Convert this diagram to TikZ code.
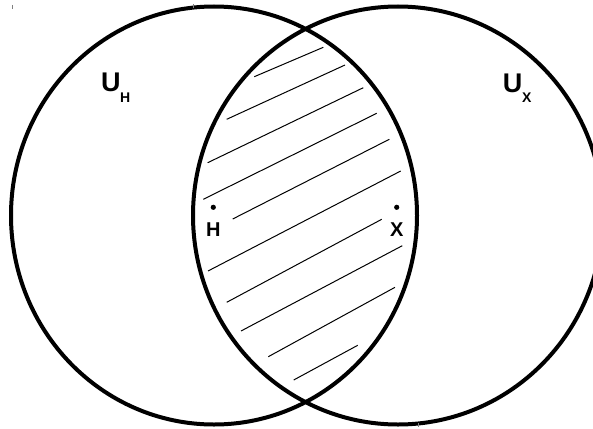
\documentclass[tikz,border=0pt]{standalone}
\usepackage{fontspec}
\setmainfont{Liberation Sans}
\begin{document}
\begin{tikzpicture}[x=1pt,y=-1pt,
  setline/.style={line width=4pt,black},
  hatch/.style={line width=1pt,black},
  big/.style={inner sep=0pt,font=\fontsize{27}{27}\selectfont\bfseries},
  sub/.style={inner sep=0pt,font=\fontsize{14}{14}\selectfont\bfseries},
  ptlabel/.style={inner sep=0pt,font=\fontsize{20}{20}\selectfont\bfseries},
  tick/.style={line width=0.8pt,gray}]
\useasboundingbox (0,0) rectangle (593,428);
\clip (0,0) rectangle (593,428);
% hatch lines
\draw[hatch] (254.3,76.7) -- (323.3,47.3);
\draw[hatch] (226.7,119.3) -- (345,65);
\draw[hatch] (207.7,162.7) -- (363.3,87.7);
\draw[hatch] (203.3,199.3) -- (376.7,113.3);
\draw[hatch] (232.7,219) -- (389.3,139.3);
\draw[hatch] (208,271) -- (400.7,171);
\draw[hatch] (226.7,302.3) -- (381.7,219.3);
\draw[hatch] (241,331) -- (402.3,245.7);
\draw[hatch] (268.3,356.7) -- (395,287.3);
\draw[hatch] (293.7,380) -- (357.7,345.3);
% sets
\draw[setline] (214,215.5) ellipse [x radius=203pt, y radius=209pt];
\draw[setline] (398,215.5) ellipse [x radius=205pt, y radius=209pt];
% points
\fill (213.3,207.3) circle [radius=2.6pt];
\fill (396.7,207.3) circle [radius=2.6pt];
\node[ptlabel] (h) at (213.3,230) {H};
\node[ptlabel] (x) at (396.7,230) {X};
% set labels
\node[big] (uh) at (110.8,82.5) {U};
\node[sub] (uhs) at (125.3,98) {H};
\node[big] (ux) at (512.5,83.7) {U};
\node[sub] (uxs) at (526.7,98) {X};
% small marks
\draw[tick] (12,5) -- (12,9);
\draw[tick] (193,4) -- (193,8);
\draw[tick] (418,423) -- (418,427);
\end{tikzpicture}
\end{document}
